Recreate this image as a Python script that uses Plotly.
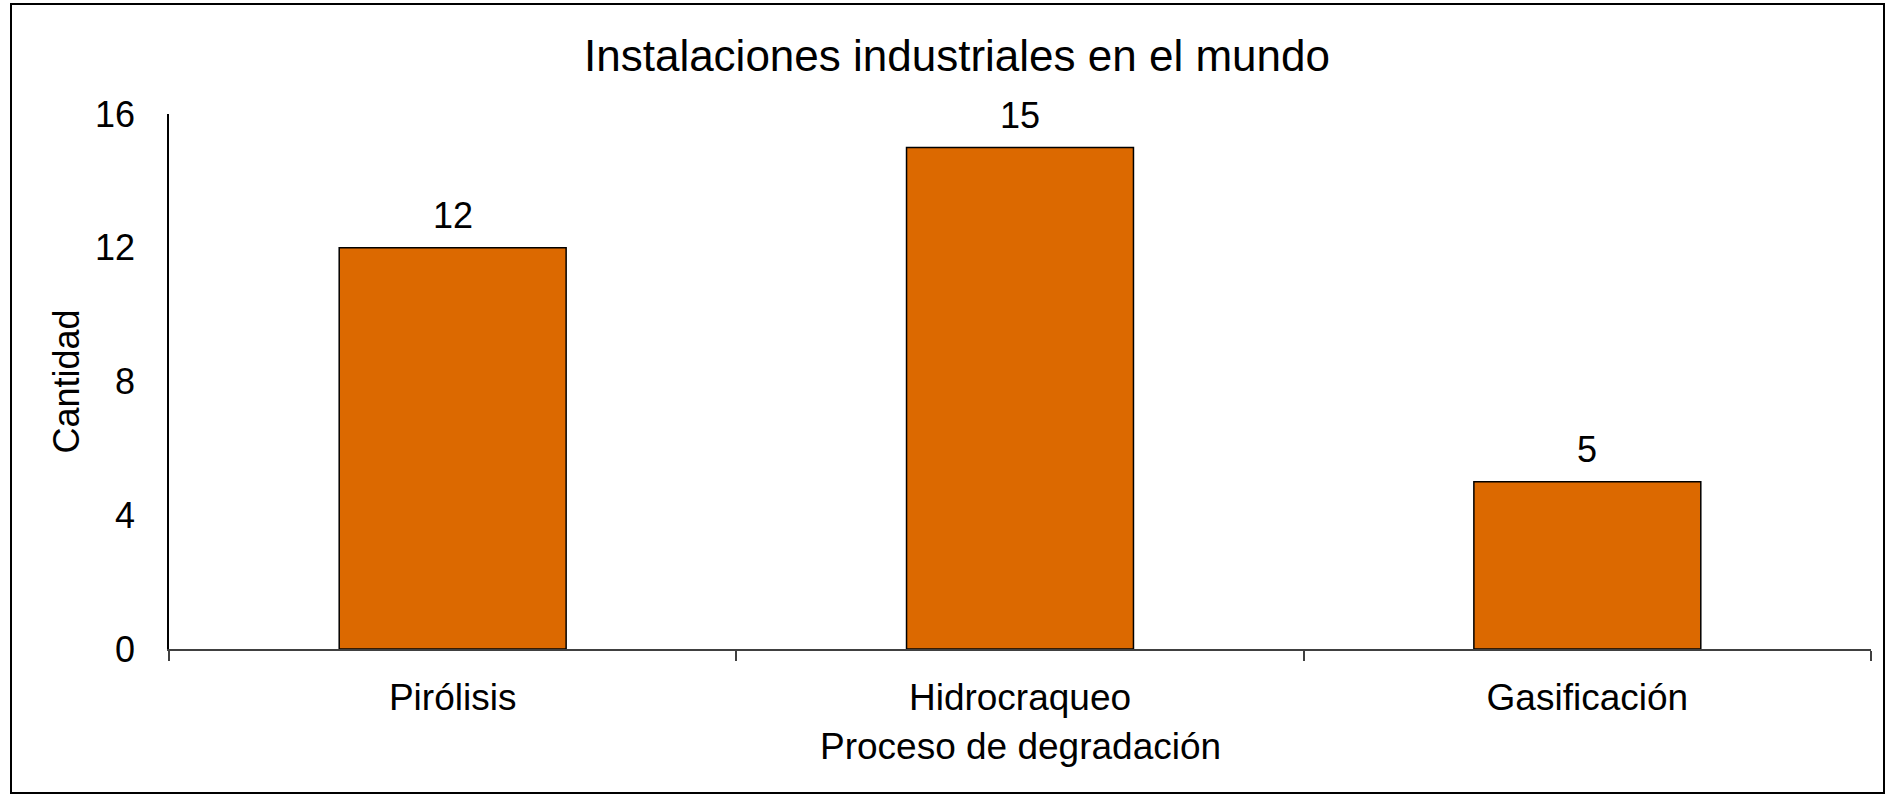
import plotly.graph_objects as go

# Installations by degradation process
procesos = ["Pirólisis", "Hidrocraqueo", "Gasificación"]
cantidad = [12, 15, 5]
y_ticks = [0, 4, 8, 12, 16]

FONT = "Arial, Liberation Sans, sans-serif"
BAR_COLOR = "#DC6900"

W, H = 1885, 794
L, R, T, B = 169, 14, 114, 145
plot_w = W - L - R
plot_h = H - T - B

fig = go.Figure(
    go.Bar(
        x=procesos,
        y=cantidad,
        width=0.4,
        marker=dict(color=BAR_COLOR, line=dict(color="#000000", width=1.5)),
        hoverinfo="x+y",
    )
)

# value labels above each bar
for p, v in zip(procesos, cantidad):
    fig.add_annotation(
        x=p, y=v, text=str(v), showarrow=False,
        yanchor="middle", yshift=32,
        font=dict(family=FONT, size=36, color="#000000"),
    )

# axis titles
fig.add_annotation(
    xref="paper", yref="paper", x=0, y=0.5, xshift=-103,
    text="Cantidad", textangle=-90, showarrow=False,
    xanchor="center", yanchor="middle",
    font=dict(family=FONT, size=36, color="#000000"),
)
fig.add_annotation(
    xref="paper", yref="paper", x=0.5, y=0, yshift=-97,
    text="Proceso de degradación", showarrow=False,
    xanchor="center", yanchor="middle",
    font=dict(family=FONT, size=37, color="#000000"),
)

# chart frame
def px_x(px):
    return (px - L) / plot_w

def px_y(py):
    return (H - B - py) / plot_h

fig.add_shape(
    type="rect", xref="paper", yref="paper",
    x0=px_x(11), x1=px_x(1884), y0=px_y(793), y1=px_y(4),
    line=dict(color="#000000", width=2), fillcolor="rgba(0,0,0,0)",
    layer="below",
)

fig.update_layout(
    width=W, height=H,
    margin=dict(l=L, r=R, t=T, b=B),
    paper_bgcolor="white", plot_bgcolor="white",
    showlegend=False,
    font=dict(family=FONT, size=36, color="#000000"),
    title=dict(
        text="Instalaciones industriales en el mundo",
        xref="container", x=957 / W, xanchor="center",
        yref="container", y=1 - 56 / H, yanchor="middle",
        font=dict(family=FONT, size=44, color="#000000"),
    ),
    bargap=0.6,
)

fig.update_xaxes(
    type="category",
    showline=True, linecolor="#404040", linewidth=1.5,
    ticks="outside", tickson="boundaries", ticklen=10,
    tickcolor="#404040", tickwidth=1.5,
    ticklabelstandoff=15,
    showgrid=False, zeroline=False,
    tickfont=dict(family=FONT, size=37, color="#000000"),
)
fig.update_yaxes(
    range=[0, 16], tickvals=y_ticks,
    showline=True, linecolor="#000000", linewidth=1.5,
    ticks="", ticklabelstandoff=25,
    showgrid=False, zeroline=False,
    tickfont=dict(family=FONT, size=36, color="#000000"),
)

fig.write_html("out.html")
